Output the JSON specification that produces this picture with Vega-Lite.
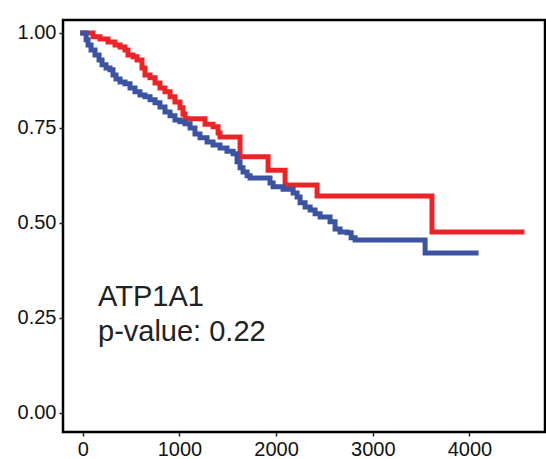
{
  "$schema": "https://vega.github.io/schema/vega-lite/v6.json",
  "width": 482,
  "height": 412,
  "autosize": "none",
  "padding": {"left": 63, "top": 20, "right": 1, "bottom": 27},
  "background": "white",
  "config": {
    "view": {"stroke": "black", "strokeWidth": 2.5},
    "font": "Liberation Sans",
    "axis": {
      "grid": false,
      "domain": false,
      "ticks": true,
      "tickColor": "#222",
      "tickWidth": 1.5,
      "tickSize": 4,
      "labelFont": "Liberation Sans",
      "labelFontSize": 20,
      "labelColor": "#111",
      "title": null
    }
  },
  "datasets": {
    "red": [
      {"time": 0, "surv": 1.0},
      {"time": 107, "surv": 0.99},
      {"time": 179, "surv": 0.984},
      {"time": 262, "surv": 0.976},
      {"time": 334, "surv": 0.968},
      {"time": 386, "surv": 0.963},
      {"time": 437, "surv": 0.955},
      {"time": 468, "surv": 0.942},
      {"time": 520, "surv": 0.937},
      {"time": 562, "surv": 0.929},
      {"time": 613, "surv": 0.908},
      {"time": 644, "surv": 0.889},
      {"time": 696, "surv": 0.882},
      {"time": 748, "surv": 0.868},
      {"time": 799, "surv": 0.855},
      {"time": 851, "surv": 0.845},
      {"time": 903, "surv": 0.832},
      {"time": 954, "surv": 0.818},
      {"time": 1006, "surv": 0.803},
      {"time": 1037, "surv": 0.787},
      {"time": 1058, "surv": 0.774},
      {"time": 1265, "surv": 0.76},
      {"time": 1348, "surv": 0.753},
      {"time": 1400, "surv": 0.737},
      {"time": 1420, "surv": 0.726},
      {"time": 1627, "surv": 0.674},
      {"time": 1917, "surv": 0.639},
      {"time": 2093, "surv": 0.6},
      {"time": 2424, "surv": 0.571},
      {"time": 3612, "surv": 0.476},
      {"time": 4543, "surv": 0.476}
    ],
    "blue": [
      {"time": 0, "surv": 1.0},
      {"time": 35, "surv": 0.982},
      {"time": 55, "surv": 0.968},
      {"time": 86, "surv": 0.955},
      {"time": 127, "surv": 0.942},
      {"time": 169, "surv": 0.929},
      {"time": 200, "surv": 0.916},
      {"time": 241, "surv": 0.908},
      {"time": 282, "surv": 0.903},
      {"time": 313, "surv": 0.889},
      {"time": 344, "surv": 0.879},
      {"time": 386, "surv": 0.871},
      {"time": 437, "surv": 0.866},
      {"time": 489, "surv": 0.855},
      {"time": 541, "surv": 0.845},
      {"time": 592, "surv": 0.837},
      {"time": 644, "surv": 0.832},
      {"time": 696, "surv": 0.824},
      {"time": 748, "surv": 0.816},
      {"time": 799, "surv": 0.805},
      {"time": 851, "surv": 0.792},
      {"time": 903, "surv": 0.782},
      {"time": 954, "surv": 0.771},
      {"time": 1006, "surv": 0.766},
      {"time": 1058, "surv": 0.761},
      {"time": 1110, "surv": 0.75},
      {"time": 1161, "surv": 0.734},
      {"time": 1213, "surv": 0.724},
      {"time": 1286, "surv": 0.713},
      {"time": 1348, "surv": 0.705},
      {"time": 1420, "surv": 0.697},
      {"time": 1492, "surv": 0.689},
      {"time": 1555, "surv": 0.682},
      {"time": 1596, "surv": 0.661},
      {"time": 1627, "surv": 0.645},
      {"time": 1658, "surv": 0.634},
      {"time": 1700, "surv": 0.624},
      {"time": 1731, "surv": 0.618},
      {"time": 1937, "surv": 0.605},
      {"time": 1969, "surv": 0.595},
      {"time": 2072, "surv": 0.589},
      {"time": 2176, "surv": 0.579},
      {"time": 2217, "surv": 0.568},
      {"time": 2248, "surv": 0.553},
      {"time": 2300, "surv": 0.542},
      {"time": 2352, "surv": 0.534},
      {"time": 2403, "surv": 0.524},
      {"time": 2455, "surv": 0.516},
      {"time": 2558, "surv": 0.503},
      {"time": 2610, "surv": 0.484},
      {"time": 2662, "surv": 0.476},
      {"time": 2734, "surv": 0.474},
      {"time": 2776, "surv": 0.461},
      {"time": 2817, "surv": 0.455},
      {"time": 3541, "surv": 0.421},
      {"time": 4068, "surv": 0.421}
    ],
    "labels": [
      {"label": "ATP1A1"},
      {"label": "p-value: 0.22"}
    ]
  },
  "layer": [
    {
      "data": {"name": "red"},
      "mark": {"type": "line", "interpolate": "step-after", "color": "#EE2326", "strokeWidth": 5, "strokeCap": "square"},
      "encoding": {
        "x": {
          "field": "time",
          "type": "quantitative",
          "scale": {"domain": [-204, 4781], "nice": false, "zero": false},
          "axis": {"values": [0, 1000, 2000, 3000, 4000], "format": "d", "labelPadding": 3}
        },
        "y": {
          "field": "surv",
          "type": "quantitative",
          "scale": {"domain": [-0.05, 1.034], "nice": false, "zero": false},
          "axis": {"values": [0, 0.25, 0.5, 0.75, 1], "format": ".2f", "labelPadding": 3}
        }
      }
    },
    {
      "data": {"name": "blue"},
      "mark": {"type": "line", "interpolate": "step-after", "color": "#3A53A3", "strokeWidth": 5, "strokeCap": "square"},
      "encoding": {
        "x": {"field": "time", "type": "quantitative"},
        "y": {"field": "surv", "type": "quantitative"}
      }
    },
    {
      "data": {"name": "labels"},
      "transform": [{"filter": "datum.label == 'ATP1A1'"}],
      "mark": {"type": "text", "align": "left", "baseline": "alphabetic", "fontSize": 29, "font": "Liberation Sans", "color": "#222"},
      "encoding": {
        "x": {"datum": 158},
        "y": {"datum": 0.2816},
        "text": {"field": "label"}
      }
    },
    {
      "data": {"name": "labels"},
      "transform": [{"filter": "datum.label != 'ATP1A1'"}],
      "mark": {"type": "text", "align": "left", "baseline": "alphabetic", "fontSize": 29, "font": "Liberation Sans", "color": "#222"},
      "encoding": {
        "x": {"datum": 158},
        "y": {"datum": 0.1895},
        "text": {"field": "label"}
      }
    }
  ]
}
